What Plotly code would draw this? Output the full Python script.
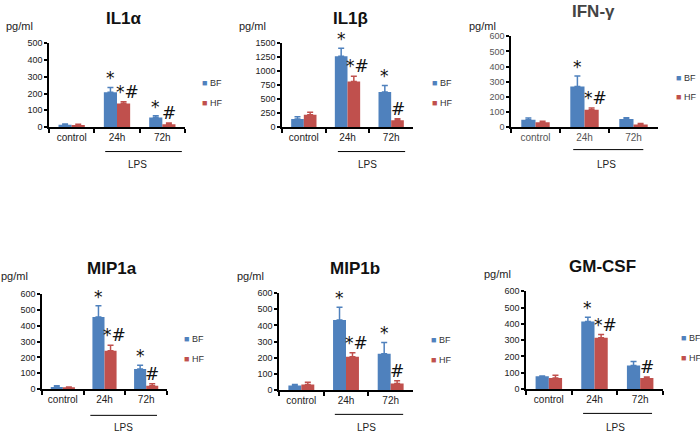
import plotly.graph_objects as go
from plotly.subplots import make_subplots

# ---------------- data ----------------
categories = ["control", "24h", "72h"]
titles = ["IL1α", "IL1β", "IFN-γ", "MIP1a", "MIP1b", "GM-CSF"]

il1a_bf = [14, 207, 58]
il1a_bf_err = [5, 29, 10]
il1a_hf = [13, 140, 17]
il1a_hf_err = [4, 11, 8]

il1b_bf = [145, 1267, 628]
il1b_bf_err = [41, 140, 116]
il1b_hf = [221, 814, 122]
il1b_hf_err = [46, 93, 29]

ifng_bf = [49, 268, 54]
ifng_bf_err = [11, 70, 8]
ifng_hf = [32, 114, 17]
ifng_hf_err = [6, 12, 7]

mip1a_bf = [12, 455, 127]
mip1a_bf_err = [8, 72, 23]
mip1a_hf = [8, 242, 20]
mip1a_hf_err = [4, 35, 13]

mip1b_bf = [28, 434, 224]
mip1b_bf_err = [6, 79, 71]
mip1b_hf = [34, 206, 40]
mip1b_hf_err = [14, 24, 17]

gmcsf_bf = [78, 414, 144]
gmcsf_bf_err = [2, 26, 24]
gmcsf_hf = [68, 314, 68]
gmcsf_hf_err = [16, 20, 6]

# significance marks (* vs control, # vs BF)
sig_bf = [["", "*", "*"], ["", "*", "*"], ["", "*", ""],
          ["", "*", "*"], ["", "*", "*"], ["", "*", ""]]
sig_hf = [["", "*#", "#"], ["", "*#", "#"], ["", "*#", ""],
          ["", "*#", "#"], ["", "*#", "#"], ["", "*#", "#"]]

y_max = [500, 1500, 600, 600, 600, 600]
y_dtick = [100, 250, 100, 100, 100, 100]

bf_values = [il1a_bf, il1b_bf, ifng_bf, mip1a_bf, mip1b_bf, gmcsf_bf]
bf_errors = [il1a_bf_err, il1b_bf_err, ifng_bf_err, mip1a_bf_err, mip1b_bf_err, gmcsf_bf_err]
hf_values = [il1a_hf, il1b_hf, ifng_hf, mip1a_hf, mip1b_hf, gmcsf_hf]
hf_errors = [il1a_hf_err, il1b_hf_err, ifng_hf_err, mip1a_hf_err, mip1b_hf_err, gmcsf_hf_err]

# ---------------- layout (pixel positions) ----------------
W, H = 700, 435
BLUE = "#4F81BD"
RED = "#C0504D"
FONT = "Liberation Sans"

# plot area: x0, x1, ytop, ybottom (px)
areas = [(49, 185, 39, 125), (282, 413, 39, 125), (511, 658, 32, 125),
         (42, 167, 296, 393), (279, 413, 295, 394), (526, 663, 293, 393)]
title_pos = [(124, 14), (350, 14), (593, 7), (112, 270), (355, 270), (602, 268)]
unit_pos = [(19, 21), (252, 21), (483, 21), (14, 277), (250, 277), (497, 275)]
legend_pos = [(200, 80, 100), (430, 80, 100), (674, 75, 94),
              (182, 342, 362), (429, 343, 363), (679, 341, 361)]
lps_line = [(0.74, 2.43, 150), (0.78, 2.32, 150), (0.77, 2.2, 148),
            (0.66, 2.26, 420), (0.75, 2.28, 419), (0.75, 2.26, 418)]
lps_label_y = [163, 163, 163, 432, 432, 432]
text_col = ["#222", "#222", "#555", "#222", "#222", "#222"]
title_col = ["#111", "#111", "#444", "#111", "#111", "#111"]

BARGAP = 0.42

def px2x(p):
    return p / W

def px2y(p):
    return 1 - p / H

fig = make_subplots(rows=2, cols=3)

annotations = []
shapes = []
for i in range(6):
    r, c = i // 3 + 1, i % 3 + 1
    sfx = "" if i == 0 else str(i + 1)
    xref, yref = "x" + sfx, "y" + sfx
    fig.add_trace(go.Bar(x=categories, y=bf_values[i], name="BF", marker_color=BLUE,
                         marker_line_width=0, showlegend=False,
                         error_y=dict(type="data", array=bf_errors[i], symmetric=False,
                                      arrayminus=[0, 0, 0], color=BLUE, thickness=1.5, width=3)),
                  row=r, col=c)
    fig.add_trace(go.Bar(x=categories, y=hf_values[i], name="HF", marker_color=RED,
                         marker_line_width=0, showlegend=False,
                         error_y=dict(type="data", array=hf_errors[i], symmetric=False,
                                      arrayminus=[0, 0, 0], color=RED, thickness=1.5, width=3)),
                  row=r, col=c)
    x0, x1, yt, yb = areas[i]
    fig.layout["xaxis" + sfx].update(
        domain=[px2x(x0), px2x(x1)], showline=True, linecolor="black", linewidth=1.5,
        ticks="outside", tickson="boundaries", ticklen=4, tickcolor="black", tickwidth=1.5,
        tickfont=dict(family=FONT, size=10, color=text_col[i]), showgrid=False, fixedrange=True)
    fig.layout["yaxis" + sfx].update(
        domain=[px2y(yb), px2y(yt)], range=[0, y_max[i]], dtick=y_dtick[i],
        showline=True, linecolor="black", linewidth=1.5, ticks="outside", ticklen=3,
        tickcolor="black", tickwidth=1.5, showgrid=False, zeroline=False,
        tickfont=dict(family=FONT, size=9, color=text_col[i]), fixedrange=True)

    catw = (x1 - x0) / 3
    bw = catw * (1 - BARGAP) / 2
    for j in range(3):
        if sig_bf[i][j]:
            annotations.append(dict(x=categories[j], y=bf_values[i][j] + bf_errors[i][j],
                                    xref=xref, yref=yref, text=sig_bf[i][j], showarrow=False,
                                    xshift=-bw / 2, yanchor="bottom", yshift=-3,
                                    font=dict(family="DejaVu Sans", size=17, color="#111")))
        if sig_hf[i][j]:
            sh = bw / 2 + (4 if len(sig_hf[i][j]) > 1 else 0)
            annotations.append(dict(x=categories[j], y=hf_values[i][j] + hf_errors[i][j],
                                    xref=xref, yref=yref, text=sig_hf[i][j], showarrow=False,
                                    xshift=sh, yanchor="bottom", yshift=-2,
                                    font=dict(family="DejaVu Sans", size=17, color="#111")))

    tx, ty = title_pos[i]
    annotations.append(dict(x=px2x(tx), y=px2y(ty), xref="paper", yref="paper",
                            text="<b>" + titles[i] + "</b>", showarrow=False,
                            xanchor="center", yanchor="middle",
                            font=dict(family=FONT, size=17, color=title_col[i])))
    ux, uy = unit_pos[i]
    annotations.append(dict(x=px2x(ux), y=px2y(uy), xref="paper", yref="paper",
                            text="pg/ml", showarrow=False, xanchor="center", yanchor="middle",
                            font=dict(family=FONT, size=11, color="#222")))
    lx, ly1, ly2 = legend_pos[i]
    for name, col, ly in (("BF", BLUE, ly1), ("HF", RED, ly2)):
        annotations.append(dict(x=px2x(lx), y=px2y(ly), xref="paper", yref="paper",
                                text="<span style='color:%s'>■</span> %s" % (col, name),
                                showarrow=False, xanchor="left", yanchor="middle",
                                font=dict(family=FONT, size=9, color="#333")))
    lx0, lx1, lly = lps_line[i]
    shapes.append(dict(type="line", xref=xref, yref="paper", x0=lx0, x1=lx1,
                       y0=px2y(lly), y1=px2y(lly), line=dict(color="black", width=1)))
    annotations.append(dict(x=1.45, y=px2y(lps_label_y[i]), xref=xref, yref="paper",
                            text="LPS", showarrow=False, xanchor="center", yanchor="middle",
                            font=dict(family=FONT, size=10, color="#222")))

fig.update_layout(width=W, height=H, margin=dict(l=0, r=0, t=0, b=0),
                  paper_bgcolor="white", plot_bgcolor="white",
                  barmode="group", bargap=BARGAP, bargroupgap=0,
                  annotations=annotations, shapes=shapes, showlegend=False)

fig.write_html("out.html", config={"displayModeBar": False},
               post_script="document.body.style.margin='0px';document.body.style.overflow='hidden';")
